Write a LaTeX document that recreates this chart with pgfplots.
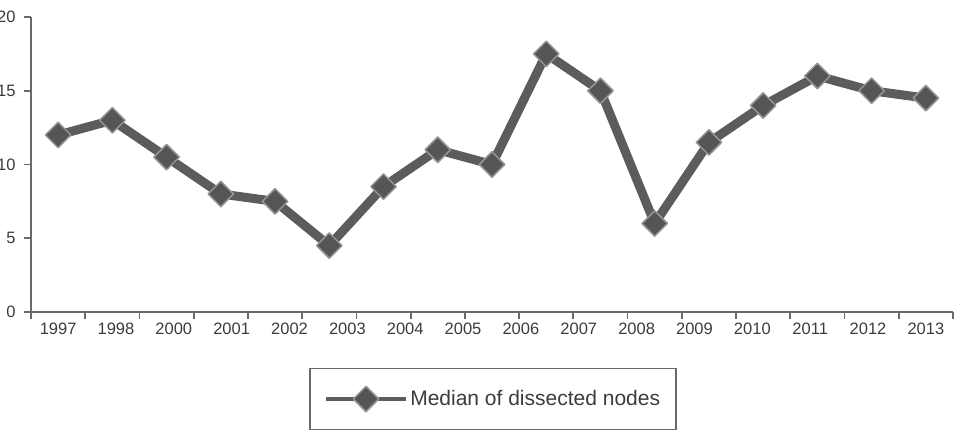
\documentclass[border=0pt]{standalone}
\usepackage{fontspec}
\setmainfont{Liberation Sans}
\usepackage{pgfplots}
\pgfplotsset{compat=1.18}
\definecolor{lc}{HTML}{5C5C5C}
\definecolor{mk}{HTML}{555555}
\definecolor{ax}{HTML}{6A6A6A}
\definecolor{tx}{HTML}{3C3C3C}
\begin{document}
\begin{tikzpicture}[x=1pt,y=1pt]
\begin{axis}[
  scale only axis, width=922pt, height=295pt,
  anchor=south west, at={(31pt,123pt)},
  xmin=0, xmax=17, ymin=0, ymax=20,
  axis lines*=left,
  axis line style={ax, line width=1.8pt},
  xtick={0,1,...,17}, xticklabels={},
  extra x ticks={0.5,1.5667,2.6333,3.7,4.7667,5.8333,6.9,7.9667,9.0333,10.1,11.1667,12.2333,13.3,14.3667,15.4333,16.5},
  extra x tick labels={1997,1998,2000,2001,2002,2003,2004,2005,2006,2007,2008,2009,2010,2011,2012,2013},
  extra x tick style={major tick length=0pt, xticklabel style={yshift=-7pt}},
  ytick={0,5,10,15,20},
  yticklabel style={xshift=-5pt},
  tick align=outside, major tick length=7pt,
  tick style={ax, line width=1.8pt},
  ticklabel style={font=\fontsize{16.5}{19}\selectfont, text=tx},
  /pgf/number format/assume math mode=true,
  legend style={at={(0.501,-0.295)}, anchor=center, draw=ax, line width=1.5pt,
    font=\fontsize{21}{25}\selectfont, text=tx, inner xsep=14pt, inner ysep=18pt},
  legend image code/.code={
    \draw[#1, line width=4.5pt, mark repeat=2, mark phase=2] plot coordinates {(0pt,0pt) (40pt,0pt) (80pt,0pt)};
  },
  clip=false,
]
\addplot[color=lc, line width=9pt, line join=round, mark=square*, mark size=9pt,
  mark options={rotate=45, fill=mk, draw=lc!65!white, line width=1.5pt}]
  coordinates {
  (0.5,12) (1.5,13) (2.5,10.5) (3.5,8) (4.5,7.5) (5.5,4.5) (6.5,8.5) (7.5,11)
  (8.5,10) (9.5,17.5) (10.5,15) (11.5,6) (12.5,11.5) (13.5,14) (14.5,16)
  (15.5,15) (16.5,14.5)
  };
\addlegendentry{Median of dissected nodes}
\end{axis}
\pgfresetboundingbox
\path (0,0) rectangle (956,435);
\end{tikzpicture}
\end{document}
